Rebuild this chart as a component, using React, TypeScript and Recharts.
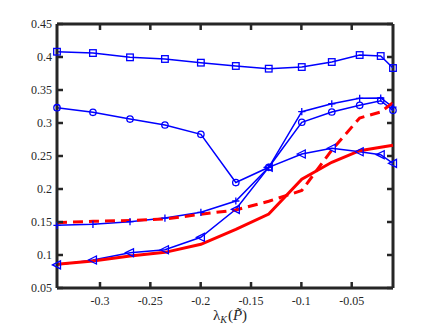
import { Line, LineChart, ReferenceLine, XAxis, YAxis } from "recharts";

// x positions shared by every curve (eigenvalue samples)
const lambdas = [-0.3427, -0.307, -0.2702, -0.2355, -0.1998, -0.1651, -0.1324, -0.0996, -0.0698, -0.0421, -0.0212, -0.009];

const squares = [0.408, 0.406, 0.3995, 0.397, 0.3914, 0.3864, 0.3823, 0.3848, 0.3924, 0.403, 0.4015, 0.3833];
const circles = [0.3232, 0.3162, 0.306, 0.297, 0.2829, 0.2098, 0.2329, 0.3011, 0.3167, 0.3268, 0.3338, 0.3192];
const pluses = [0.145, 0.1465, 0.1505, 0.156, 0.1647, 0.1818, 0.2329, 0.3171, 0.3292, 0.3374, 0.3379, 0.324];
const triangles = [0.085, 0.0924, 0.1035, 0.108, 0.1268, 0.1692, 0.2329, 0.253, 0.2617, 0.2565, 0.252, 0.2389];
const redSolid = [0.086, 0.0909, 0.0985, 0.104, 0.1162, 0.139, 0.1621, 0.2147, 0.2405, 0.258, 0.2632, 0.2662];
const redDashed = [0.149, 0.151, 0.1523, 0.1545, 0.1617, 0.1682, 0.1814, 0.1977, 0.259, 0.3076, 0.3167, 0.331];

const xTicks = [-0.3, -0.25, -0.2, -0.15, -0.1, -0.05];
const xTickLabels = ["-0.3", "-0.25", "-0.2", "-0.15", "-0.1", "-0.05"];
const yTicks = [0.05, 0.1, 0.15, 0.2, 0.25, 0.3, 0.35, 0.4, 0.45];
const yTickLabels = ["0.05", "0.1", "0.15", "0.2", "0.25", "0.3", "0.35", "0.4", "0.45"];

const X_DOMAIN: [number, number] = [-0.3427, -0.009];
const Y_DOMAIN: [number, number] = [0.05, 0.45];

const rows = lambdas.map((x, i) => ({
  x,
  squares: squares[i],
  circles: circles[i],
  pluses: pluses[i],
  triangles: triangles[i],
  redSolid: redSolid[i],
  redDashed: redDashed[i],
}));

const W = 436;
const H = 327;
const M = { top: 24, right: 43, bottom: 0, left: 0 };
const Y_AXIS_W = 57;
const X_AXIS_H = 39;
// plot box size, used to mirror the ticks onto the top and right edges
const PLOT_W = W - M.left - M.right - Y_AXIS_W;
const PLOT_H = H - M.top - M.bottom - X_AXIS_H;

const INK = "#262626";
const BLUE = "#0000ff";
const RED = "#ff0000";
const SERIF = '"Liberation Serif", "Times New Roman", serif';
const TICK_LEN = 6;

// bottom tick: inward mark at the bottom, mirrored one at the top, label below
const bottomTick = (props: any) => {
  const { x, y, index } = props;
  return (
    <g key={`bx${index}`}>
      <line x1={x} x2={x} y1={y} y2={y - TICK_LEN} stroke="#262626" strokeWidth={2.5} />
      <line x1={x} x2={x} y1={y - PLOT_H} y2={y - PLOT_H + TICK_LEN} stroke="#262626" strokeWidth={2.5} />
      <text x={x} y={y + 17} textAnchor="middle" fontFamily={SERIF} fontSize={12} fill="#262626">
        {xTickLabels[index]}
      </text>
    </g>
  );
};

// left tick: inward mark at the left, mirrored one at the right, label beside
const leftTick = (props: any) => {
  const { x, y, index } = props;
  return (
    <g key={`ly${index}`}>
      <line x1={x} x2={x + TICK_LEN} y1={y} y2={y} stroke="#262626" strokeWidth={2.5} />
      <line x1={x + PLOT_W} x2={x + PLOT_W - TICK_LEN} y1={y} y2={y} stroke="#262626" strokeWidth={2.5} />
      <text x={x - 5} y={y + 4} textAnchor="end" fontFamily={SERIF} fontSize={12} fill="#262626">
        {yTickLabels[index]}
      </text>
    </g>
  );
};

const xLabel = (props: any) => {
  const vb = props.viewBox || {};
  return (
    <text x={vb.x + vb.width / 2 + 5} y={vb.y + 32} textAnchor="middle" fontFamily={SERIF} fontSize={15} fill="#262626">
      <tspan>λ</tspan>
      <tspan fontStyle="italic" fontSize={10} dy={3}>K</tspan>
      <tspan dy={-3} dx={1}>(</tspan>
      <tspan fontStyle="italic">P&#771;</tspan>
      <tspan>)</tspan>
    </text>
  );
};

// MATLAB-style open markers
const square = (p: any) => (
  <rect key={`s${p.index}`} x={p.cx - 3.3} y={p.cy - 3.3} width={6.6} height={6.6} fill="none" stroke={BLUE} strokeWidth={1.3} />
);
const circle = (p: any) => (
  <circle key={`c${p.index}`} cx={p.cx} cy={p.cy} r={3.2} fill="none" stroke={BLUE} strokeWidth={1.3} />
);
const plus = (p: any) => (
  <path key={`p${p.index}`} d={`M${p.cx - 3.6},${p.cy}H${p.cx + 3.6}M${p.cx},${p.cy - 3.6}V${p.cy + 3.6}`} stroke={BLUE} strokeWidth={1.3} />
);
const triangle = (p: any) => (
  <path key={`t${p.index}`} d={`M${p.cx - 4.5},${p.cy}L${p.cx + 3.5},${p.cy - 4}L${p.cx + 3.5},${p.cy + 4}Z`} fill="none" stroke={BLUE} strokeWidth={1.3} />
);

const series = [
  { key: "squares", dot: square },
  { key: "circles", dot: circle },
  { key: "pluses", dot: plus },
  { key: "triangles", dot: triangle },
];

export default function App() {
  return (
    <div style={{ position: "absolute", left: 0, top: 0 }}>
      <LineChart width={W} height={H} data={rows} margin={M}>
        <XAxis
          dataKey="x"
          type="number"
          domain={X_DOMAIN}
          ticks={xTicks}
          interval={0}
          height={X_AXIS_H}
          tickSize={0}
          tickMargin={0}
          tickLine={false}
          axisLine={{ stroke: INK, strokeWidth: 3 }}
          tick={bottomTick}
          label={xLabel}
        />
        <YAxis
          type="number"
          domain={Y_DOMAIN}
          ticks={yTicks}
          interval={0}
          width={Y_AXIS_W}
          tickSize={0}
          tickMargin={0}
          tickLine={false}
          axisLine={{ stroke: INK, strokeWidth: 3 }}
          tick={leftTick}
        />
        {/* top and right edges of the box */}
        <ReferenceLine y={Y_DOMAIN[1]} stroke={INK} strokeWidth={3} ifOverflow="visible" />
        <ReferenceLine x={X_DOMAIN[1]} stroke={INK} strokeWidth={3} ifOverflow="visible" />
        {series.map((s) => (
          <Line
            key={s.key}
            dataKey={s.key}
            stroke={BLUE}
            strokeWidth={1.5}
            dot={s.dot}
            activeDot={false}
            isAnimationActive={false}
          />
        ))}
        <Line dataKey="redSolid" stroke={RED} strokeWidth={3} dot={false} activeDot={false} isAnimationActive={false} />
        <Line
          dataKey="redDashed"
          stroke={RED}
          strokeWidth={3}
          strokeDasharray="10 6"
          dot={false}
          activeDot={false}
          isAnimationActive={false}
        />
      </LineChart>
    </div>
  );
}
